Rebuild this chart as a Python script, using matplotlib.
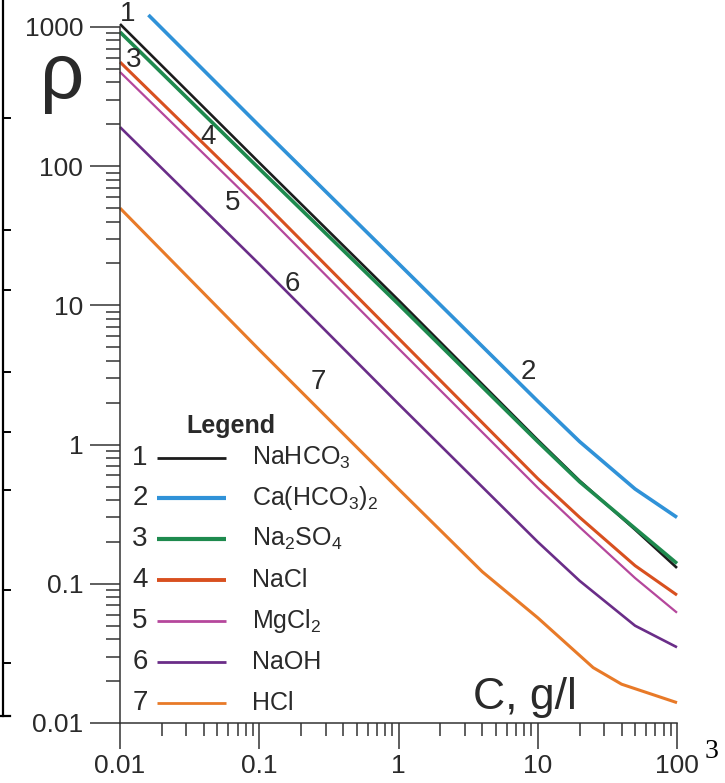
import matplotlib
matplotlib.use("Agg")
import matplotlib.pyplot as plt
from matplotlib.ticker import FixedLocator, FixedFormatter, LogLocator, NullFormatter
from matplotlib.lines import Line2D

plt.rcParams['font.family'] = ['Liberation Sans', 'DejaVu Sans']
plt.rcParams['mathtext.fontset'] = 'custom'
plt.rcParams['mathtext.rm'] = 'Liberation Sans'
plt.rcParams['mathtext.it'] = 'Liberation Sans:italic'
plt.rcParams['mathtext.bf'] = 'Liberation Sans:bold'
plt.rcParams['mathtext.default'] = 'regular'

# ---------------- data ----------------
conc_std = [0.01, 0.1, 1, 10, 20, 50, 100]
conc_ca = [0.016, 0.1, 1, 10, 20, 50, 100]
conc_hcl = [0.01, 0.1, 1, 4, 10, 25, 40, 100]

rho_nahco3 = [1050, 106, 10.9, 1.08, 0.55, 0.245, 0.13]
rho_cahco3 = [1220, 195, 20, 2.05, 1.05, 0.48, 0.30]
rho_na2so4 = [920, 96, 10.2, 1.05, 0.54, 0.25, 0.14]
rho_nacl = [560, 59, 5.8, 0.57, 0.30, 0.135, 0.083]
rho_mgcl2 = [475, 50, 4.9, 0.49, 0.255, 0.11, 0.062]
rho_naoh = [191, 19.8, 1.96, 0.20, 0.105, 0.05, 0.035]
rho_hcl = [50, 4.8, 0.48, 0.122, 0.057, 0.025, 0.019, 0.014]

numbers = ['1', '2', '3', '4', '5', '6', '7']
names = [r'NaHCO$_3$', r'Ca(HCO$_3$)$_2$', r'Na$_2$SO$_4$', 'NaCl',
         r'MgCl$_2$', 'NaOH', 'HCl']
yticks = [0.01, 0.1, 1, 10, 100, 1000]
ytick_labels = ['0.01', '0.1', '1', '10', '100', '1000']
xticks = [0.01, 0.1, 1, 10, 100]
xtick_labels = ['0.01', '0.1', '1', '10', '100']

series = [
    (conc_std, rho_nahco3),
    (conc_ca, rho_cahco3),
    (conc_std, rho_na2so4),
    (conc_std, rho_nacl),
    (conc_std, rho_mgcl2),
    (conc_std, rho_naoh),
    (conc_hcl, rho_hcl),
]
colors = ['#1c1c1c', '#3092d8', '#1e8a4e', '#d8501f', '#b5479c', '#6a2d88', '#e87a28']
lws = [1.9, 2.6, 2.6, 2.2, 1.6, 1.9, 2.2]
key_lws = [2.0, 3.0, 3.0, 2.8, 2.0, 2.0, 2.0]

# ---------------- figure ----------------
W, H = 725, 783
fig = plt.figure(figsize=(W / 100, H / 100), dpi=100)
L, R, B, T = 120, 677, 723, 27
ax = fig.add_axes([L / W, 1 - B / H, (R - L) / W, (B - T) / H])

for (c, r), col, lw in zip(series, colors, lws):
    ax.plot(c, r, color=col, lw=lw, solid_capstyle='butt', clip_on=False)

ax.set_xscale('log')
ax.set_yscale('log')
ax.set_xlim(0.01, 100)
ax.set_ylim(0.01, 1000)

for s in ['top', 'right']:
    ax.spines[s].set_visible(False)
for s in ['left', 'bottom']:
    ax.spines[s].set_linewidth(1.1)
    ax.spines[s].set_color('#333333')

ax.yaxis.set_major_locator(FixedLocator(yticks))
ax.yaxis.set_major_formatter(FixedFormatter(ytick_labels))
ax.xaxis.set_major_locator(FixedLocator(xticks))
ax.xaxis.set_major_formatter(FixedFormatter(xtick_labels))
ax.yaxis.set_minor_locator(LogLocator(base=10, subs=range(2, 10), numticks=20))
ax.xaxis.set_minor_locator(LogLocator(base=10, subs=range(2, 10), numticks=20))
ax.yaxis.set_minor_formatter(NullFormatter())
ax.xaxis.set_minor_formatter(NullFormatter())

ax.tick_params(axis='y', which='major', direction='out', length=21.5, width=1.1,
               color='#333333', labelsize=19, pad=5, labelcolor='#2a2a2a')
ax.tick_params(axis='y', which='minor', direction='out', length=10, width=1.1,
               color='#333333')
ax.tick_params(axis='x', which='major', direction='out', length=19, width=1.1,
               color='#333333', labelsize=19, pad=3.5, labelcolor='#2a2a2a')
ax.tick_params(axis='x', which='minor', direction='out', length=9, width=1.1,
               color='#333333')


def af(px, py):
    return ((px - L) / (R - L), (B - py) / (B - T))


# curve number labels
curve_label_pos = [(128, 14), (528, 372), (134, 60), (208, 137), (233, 203), (292, 284), (318, 382)]
for n, (px, py) in zip(numbers, curve_label_pos):
    ax.text(*af(px, py), n, transform=ax.transAxes, fontsize=20, ha='center',
            va='center', color='#2a2a2a', clip_on=False)

# legend (manual)
ax.text(*af(231, 426), 'Legend', transform=ax.transAxes, fontsize=18,
        fontweight='bold', ha='center', va='center', color='#2a2a2a')
row_y = [458, 498, 539, 580, 621, 662, 703]
for n, name, col, klw, py in zip(numbers, names, colors, key_lws, row_y):
    ax.text(*af(140, py), n, transform=ax.transAxes, fontsize=20, ha='center',
            va='center', color='#2a2a2a')
    x0, y0 = af(157, py)
    x1, _ = af(226, py)
    ax.plot([x0, x1], [y0, y0], transform=ax.transAxes, color=col, lw=klw,
            solid_capstyle='butt')
    ax.text(*af(252, py), name, transform=ax.transAxes, fontsize=18, ha='left',
            va='center', color='#2a2a2a')

# axis titles
fig.text(62 / W, 1 - 78 / H, 'ρ', fontsize=56, ha='center', va='center', color='#2a2a2a')
fig.text(525 / W, 1 - 698 / H, 'C, g/l', fontsize=32, ha='center', va='center', color='#2a2a2a')

# page number
fig.text(712 / W, 1 - 751 / H, '3', fontsize=20, ha='center', va='center',
         family=['Liberation Serif', 'DejaVu Serif'], color='black')

# left border remnants
fig.add_artist(Line2D([3 / W, 3 / W], [1, 1 - 716 / H], color='black', lw=1.6))
for py in [118, 230, 290, 372, 432, 490, 590, 663]:
    fig.add_artist(Line2D([3 / W, 10 / W], [1 - py / H, 1 - py / H], color='black', lw=1.4))
fig.add_artist(Line2D([0, 10 / W], [1 - 716 / H, 1 - 716 / H], color='black', lw=1.6))

fig.savefig('out.png', dpi=100)
